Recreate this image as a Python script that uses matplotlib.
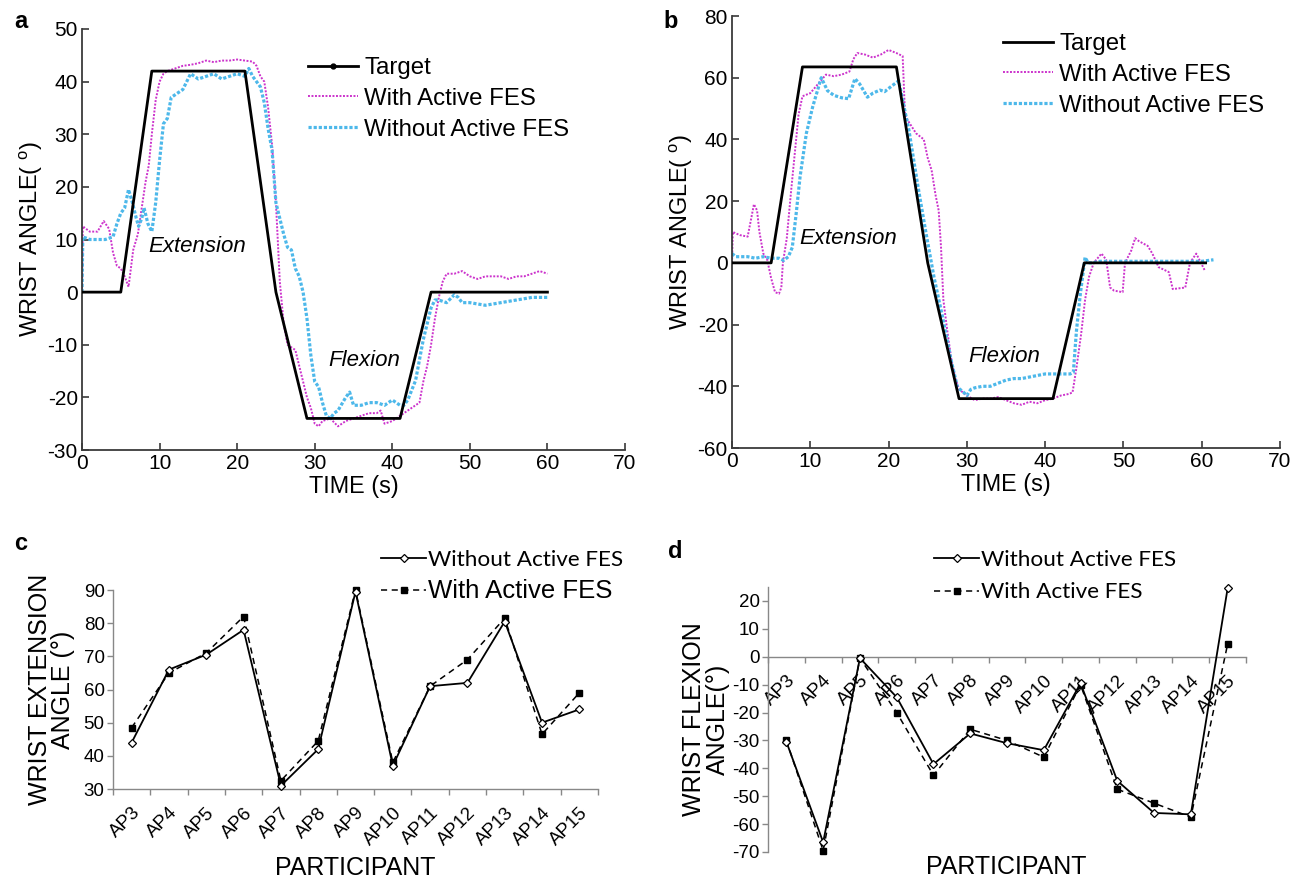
import matplotlib
matplotlib.use('Agg')
import matplotlib.pyplot as plt
from matplotlib.lines import Line2D
from matplotlib import font_manager
import numpy as np

# ---------------- data ----------------
# Panel a (time series, seconds / degrees)
a_target_t = [0, 5, 9, 21, 25, 29, 41, 45, 60]
a_target_y = [0, 0, 42, 42, 0, -24, -24, 0, 0]

a_fes_t = [0, 0.1, 1, 2, 2.8, 3.5, 4, 4.5, 5, 5.5,
           6, 6.6, 7.2, 7.7, 8.2, 8.6, 9, 9.5, 10, 10.5,
           11, 12, 13, 14, 15, 16, 17, 18, 19, 20,
           21, 22, 22.5, 23, 23.5, 24, 24.5, 25, 25.5, 26,
           26.5, 27, 27.5, 28, 28.5, 29, 29.5, 30, 30.5, 31,
           32, 33, 34, 35, 36, 37, 38, 38.5, 39, 40,
           41, 42, 43, 43.5, 44, 44.5, 45, 45.5, 46, 46.5,
           47, 48, 49, 50, 51, 52, 53, 54, 55, 56,
           57, 58, 59, 60]
a_fes_y = [0, 12.5, 11.5, 11.5, 13.5, 12, 7.5, 5, 4.5, 3,
           1, 8, 11, 16, 21, 24, 30, 36.5, 40, 41.5,
           42, 42.5, 43, 43.2, 43.5, 44, 43.7, 44, 44, 44.2,
           44, 43.8, 43, 41, 40, 35, 28, 17, 2, -6,
           -10, -10.5, -11, -14, -17, -20, -22, -25, -25.5, -24.5,
           -24, -25.5, -24.5, -24, -23.5, -23, -23, -22.5, -25, -24.5,
           -23.5, -22.5, -21.5, -21, -17, -14, -10, -5, -1, 2,
           3.5, 3.5, 4, 3, 2.5, 3, 3, 3, 2.5, 3,
           3, 3.5, 4, 3.5]

a_nofes_t = [0, 0.1, 1, 2, 3, 4, 4.5, 5, 5.5, 6,
             6.5, 7, 7.3, 7.7, 8, 8.5, 9, 9.5, 10, 10.5,
             11, 11.5, 12, 13, 13.5, 14, 15, 16, 17, 18,
             19, 20, 21, 21.5, 22, 23, 23.5, 24, 24.5, 25,
             25.5, 26, 26.5, 27, 27.5, 28, 28.5, 29, 29.5, 30,
             30.5, 31, 31.5, 32, 32.5, 33, 34, 34.5, 35, 36,
             37, 38, 39, 40, 41, 41.5, 42, 43, 44, 44.5,
             45, 45.5, 46, 47, 48, 48.5, 49, 50, 52, 54,
             56, 58, 60]
a_nofes_y = [0, 10.5, 10, 10, 10, 10.5, 13, 15, 16, 19.5,
             17, 14, 12.5, 14, 16, 13, 11.5, 17, 25, 32,
             33, 37, 37.5, 38.5, 40, 41.5, 40.5, 41, 41.5, 40.5,
             41, 41.5, 41, 42.5, 41, 39, 36, 31, 27, 17,
             14, 11, 8.5, 8, 4.5, 3, 0, -5, -12, -17,
             -18, -21, -23.5, -24, -23, -22.5, -20, -19, -21.5, -21.5,
             -21, -21, -21.5, -20.5, -21.5, -21.5, -20.5, -16.8, -9, -6,
             -3, -1.5, -1.5, -2, -0.5, -1, -2, -2, -2.5, -2,
             -1.5, -1, -1]

# Panel b
b_target_t = [0, 5, 9, 21, 25, 29, 41, 45, 60.5]
b_target_y = [0, 0, 63.5, 63.5, 0, -44, -44, 0, 0]

b_fes_t = [0, 0.1, 1, 2, 2.5, 2.8, 3.2, 3.5, 4, 4.5,
           5, 5.5, 6, 6.3, 6.5, 7, 7.5, 8, 8.5, 9,
           10, 11, 12, 13, 14, 15, 15.5, 16, 17, 18,
           19, 20, 21, 21.8, 22.1, 22.5, 23, 23.5, 24, 24.5,
           25, 25.5, 26, 26.4, 26.7, 27, 27.5, 28, 28.5, 29,
           30, 31, 32, 33, 34, 35, 36, 37, 38, 39,
           40, 41, 42, 43, 43.5, 44, 44.6, 45.1, 45.6, 46.2,
           47.2, 47.8, 48.3, 48.8, 49.9, 50.2, 51, 51.5, 52, 53.1,
           53.7, 54.5, 55.8, 56.3, 57.9, 58.5, 59.3, 60.4]
b_fes_y = [0, 10, 9, 8.5, 15, 19, 17, 10, 3, 1,
           -5, -9.5, -10, -8, 0, 8, 22, 35, 48, 54,
           55, 58, 61, 60.5, 61, 62, 66, 68, 67.5, 66.5,
           67.5, 69, 68, 67, 48, 46, 44, 42, 41, 40,
           34, 30, 22, 17, 5, -12, -22, -31, -37, -41,
           -43, -44.5, -44, -44, -43.5, -44.5, -45.5, -46, -45, -45.5,
           -44.5, -44, -43, -42.5, -42, -34, -23, -12, -4.6, 0,
           3, 1, -8, -9, -9.5, 0, 4, 8, 7, 5.5,
           3, -1.4, -3, -8.5, -8, 0, 3, -2.5]

b_nofes_t = [0, 0.5, 1, 2, 3, 4, 5, 6, 6.6, 7.2,
             7.7, 8.2, 8.7, 9.5, 10.3, 11.4, 12.2, 13, 14, 14.9,
             15.7, 16.3, 17.3, 18, 18.9, 19.5, 20.5, 21.3, 21.8, 22.6,
             23.7, 24.8, 25.8, 26.9, 28, 28.8, 29.6, 30, 30.5, 31,
             32, 33, 34, 35, 36, 37, 38, 39, 40, 41,
             42, 43.2, 43.6, 44, 44.5, 45.1, 45.5, 46, 47, 48,
             50, 52, 54, 56, 58, 60, 61.5]
b_nofes_y = [3, 2, 2, 2, 1.5, 2, 1.5, 1.5, 0.8, 2,
             5, 16, 28, 42, 50.5, 60, 55.8, 54.3, 53.5, 53.2,
             59.7, 58, 53.7, 55, 56, 55.5, 57.5, 59, 52.7, 43,
             25.6, 9.4, -4.6, -17.6, -31.7, -40.3, -42, -43, -41, -40.5,
             -40, -40, -39, -38, -37.5, -37.5, -37, -36.5, -36, -36,
             -36, -36, -35.5, -22, -10, 1.8, 0, 0, 0.5, 0.5,
             0.5, 0.5, 0.5, 0.5, 0.5, 0.5, 1]

# Panels c, d
participants = ['AP3', 'AP4', 'AP5', 'AP6', 'AP7', 'AP8', 'AP9', 'AP10',
                'AP11', 'AP12', 'AP13', 'AP14', 'AP15']
ext_without = [44, 66, 70.5, 78, 31, 42, 89.5, 37, 61, 62, 80.5, 50, 54]
ext_with = [48.5, 65, 71, 82, 32.5, 44.5, 90, 38, 61, 69, 81.5, 46.5, 59]
flex_without = [-30.5, -66.5, -0.5, -14.5, -38.5, -27.5, -31, -33.5, -9.5,
                -44.5, -56, -56.5, 24.5]
flex_with = [-30, -69.5, -0.5, -20, -42.5, -26, -30, -36, -10,
             -47.5, -52.5, -57.5, 4.5]

# ---------------- style ----------------
_names = {f.name for f in font_manager.fontManager.ttflist}
if 'Liberation Sans Narrow' in _names:
    NARROW = ['Liberation Sans Narrow', 'DejaVu Sans']
else:
    NARROW = ['Liberation Sans', 'DejaVu Sans']
CAL = ['Lato', 'Open Sans', 'DejaVu Sans']
plt.rcParams['font.family'] = NARROW
plt.rcParams['axes.unicode_minus'] = False
plt.rcParams['mathtext.fontset'] = 'custom'
plt.rcParams['mathtext.rm'] = NARROW[0]
MAG = '#CC33CC'
CYAN = '#4DB8EA'
SPC = '#3a3a3a'

W, H = 1306, 881
fig = plt.figure(figsize=(W / 100, H / 100), dpi=100)


def axrect(l, t, r, b):
    return fig.add_axes([l / W, 1 - b / H, (r - l) / W, (b - t) / H])


def ts_panel(ax, tt, ty, ft, fy, nt, ny, ylim, yticks, ext_pos, flex_pos,
             leg_xy, target_marker):
    ax.plot(tt, ty, color='black', lw=2.0, zorder=3)
    ax.plot(ft, fy, color=MAG, lw=1.4, ls=(0, (1, 0.8)), zorder=2)
    ax.plot(nt, ny, color=CYAN, lw=2.3, ls=(0, (1, 0.6)), zorder=2)
    ax.set_xlim(0, 70)
    ax.set_ylim(*ylim)
    ax.set_xticks(range(0, 71, 10))
    ax.set_yticks(yticks)
    for s in ['top', 'right']:
        ax.spines[s].set_visible(False)
    for s in ['left', 'bottom']:
        ax.spines[s].set_color(SPC)
        ax.spines[s].set_linewidth(1.3)
    ax.tick_params(direction='in', length=5, width=1.2, color=SPC,
                   labelsize=15, pad=3)
    ax.set_xlabel('TIME (s)', fontsize=16.8, labelpad=1)
    ax.set_ylabel(r'WRIST ANGLE( $^{\mathrm{o}}$)', fontsize=17, labelpad=2)
    ax.text(ext_pos[0], ext_pos[1], 'Extension', style='italic', fontsize=16,
            ha='left', va='center')
    ax.text(flex_pos[0], flex_pos[1], 'Flexion', style='italic', fontsize=16,
            ha='left', va='center')
    handles = [
        Line2D([], [], color='black', lw=2.0,
               marker='.' if target_marker else None, markersize=7),
        Line2D([], [], color=MAG, lw=1.4, ls=(0, (1, 0.8))),
        Line2D([], [], color=CYAN, lw=2.3, ls=(0, (1, 0.6))),
    ]
    ax.legend(handles, ['Target', 'With Active FES', 'Without Active FES'],
              loc='upper left', bbox_to_anchor=(leg_xy[0] / W, 1 - leg_xy[1] / H),
              bbox_transform=fig.transFigure, frameon=False, fontsize=17.3,
              handlelength=2.1, handletextpad=0.25,
              labelspacing=0.37, borderaxespad=0, borderpad=0)


# Panel a
axa = axrect(82, 29, 625, 450)
ts_panel(axa, a_target_t, a_target_y, a_fes_t, a_fes_y, a_nofes_t, a_nofes_y,
         (-30, 50), range(-30, 51, 10), (8.5, 8.6), (31.8, -13.0),
         (308, 57), True)

# Panel b
axb = axrect(732, 16, 1280, 448)
ts_panel(axb, b_target_t, b_target_y, b_fes_t, b_fes_y, b_nofes_t, b_nofes_y,
         (-60, 80), range(-60, 81, 20), (8.6, 8.0), (30.2, -30.4),
         (1003, 33), False)


def cat_panel(ax, yw, yf, ylim, yticks, ylabel, leg_xy, zero_axis, big_second,
              lpad, ylpad, lspace):
    x = np.arange(len(participants))
    for s in ['top', 'right']:
        ax.spines[s].set_visible(False)
    for s in ['left', 'bottom']:
        ax.spines[s].set_color('#888888')
        ax.spines[s].set_linewidth(1.0)
    if zero_axis:
        ax.spines['bottom'].set_position(('data', 0))
    ax.plot(x, yw, color='black', lw=1.3, marker='D', markersize=4.5,
            markerfacecolor='white', markeredgecolor='black', markeredgewidth=0.9,
            zorder=3, label='Without Active FES', clip_on=False)
    ax.plot(x, yf, color='black', lw=1.1, ls=(0, (4, 3)), marker='s',
            markersize=5, markerfacecolor='black', zorder=2,
            label='With Active FES', clip_on=False)
    ax.set_xlim(-0.5, len(participants) - 0.5)
    ax.set_ylim(*ylim)
    ax.set_yticks(yticks)
    ax.set_xticks(x)
    ax.set_xticklabels(participants, rotation=45, ha='right',
                       rotation_mode='anchor', fontsize=13.5)
    ax.set_xticks(np.arange(-0.5, len(participants), 1), minor=True)
    ax.tick_params(axis='x', which='major', length=0, pad=lpad)
    ax.tick_params(axis='x', which='minor', length=4, width=1, color='#888888',
                   direction='out')
    ax.tick_params(axis='y', length=4, width=1, color='#888888',
                   labelsize=13.5, direction='out', pad=2)
    ax.set_ylabel(ylabel, fontsize=18, linespacing=0.95, labelpad=ylpad)
    leg = ax.legend(loc='upper left',
                    bbox_to_anchor=(leg_xy[0] / W, 1 - leg_xy[1] / H),
                    bbox_transform=fig.transFigure, frameon=False,
                    prop={'family': CAL, 'size': 16.2},
                    handlelength=2.0, handletextpad=0.1, labelspacing=lspace,
                    borderaxespad=0, borderpad=0)
    if big_second:
        t = leg.get_texts()[1]
        t.set_fontfamily(NARROW)
        t.set_fontsize(18.5)
    return ax


# Panel c
axc = axrect(113, 590, 598, 789)
cat_panel(axc, ext_without, ext_with, (30, 90), range(30, 91, 10),
          'WRIST EXTENSION\nANGLE (°)', (381, 550), False, True, 11, 6, 0.4)
fig.text(355 / W, 1 - 868 / H, 'PARTICIPANT', fontsize=18, ha='center',
         va='center')

# Panel d
axd = axrect(768, 587, 1246, 852)
cat_panel(axd, flex_without, flex_with, (-70, 25), range(-70, 21, 10),
          'WRIST FLEXION\nANGLE(°)', (934, 550), True, False, 11, 2, 0.55)
fig.text(1006 / W, 1 - 867 / H, 'PARTICIPANT', fontsize=18, ha='center',
         va='center')

# panel letters
for lbl, (px, py) in {'a': (21, 21), 'b': (671, 21), 'c': (21, 543),
                      'd': (675, 551)}.items():
    fig.text(px / W, 1 - py / H, lbl, fontsize=17, fontweight='bold',
             family=['Liberation Sans', 'DejaVu Sans'], ha='center', va='center')

fig.savefig('out.png', dpi=100)
